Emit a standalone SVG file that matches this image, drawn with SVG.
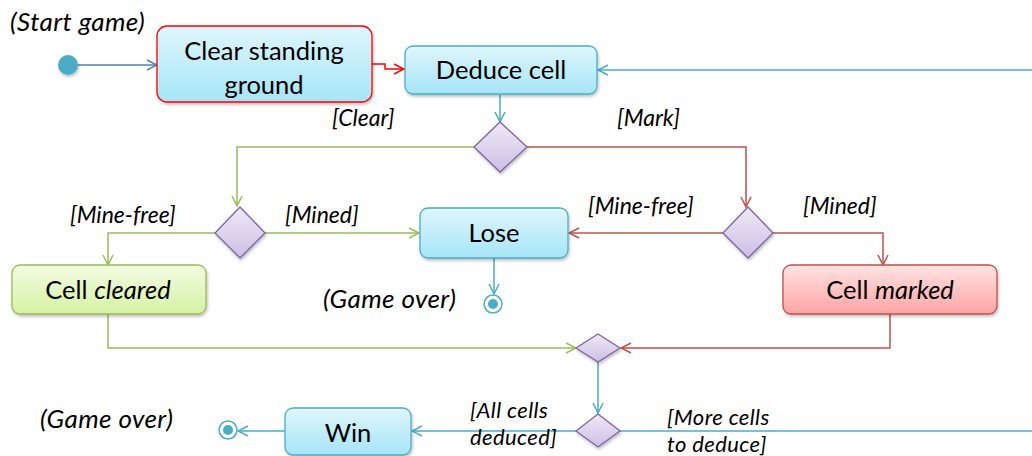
<svg xmlns="http://www.w3.org/2000/svg" width="1032" height="456" viewBox="0 0 1032 456">
  <style>
    text { font-family: Lato, "Open Sans", "Liberation Sans", sans-serif; fill: #000; }
    .node { font-size: 25.5px; text-anchor: middle; }
    .lbl { font-size: 23px; font-style: italic; }
    .lbl2 { font-size: 22px; font-style: italic; letter-spacing: 0.4px; }
    .note { font-size: 26px; font-style: italic; letter-spacing: 0.4px; }
    .blue { stroke: #4bacc6; stroke-width: 1.5; fill: none; }
    .navy { stroke: #4f81bd; stroke-width: 1.5; fill: none; }
    .red { stroke: #c0504d; stroke-width: 1.5; fill: none; }
    .bred { stroke: #ff0000; stroke-width: 1.5; fill: none; }
    .green { stroke: #9bbb59; stroke-width: 1.5; fill: none; }
    .dia { fill: url(#gPurple); stroke: #8064a2; stroke-width: 1.3; filter: url(#sh); }
  </style>
  <defs>
    <linearGradient id="gBlue" x1="0" y1="0" x2="0" y2="1">
      <stop offset="0" stop-color="#e0f6fc"/>
      <stop offset="1" stop-color="#a5e5f8"/>
    </linearGradient>
    <linearGradient id="gGreen" x1="0" y1="0" x2="0" y2="1">
      <stop offset="0" stop-color="#f3fbe3"/>
      <stop offset="1" stop-color="#d5f2a3"/>
    </linearGradient>
    <linearGradient id="gRed" x1="0" y1="0" x2="0" y2="1">
      <stop offset="0" stop-color="#ffe3e3"/>
      <stop offset="1" stop-color="#fea4a4"/>
    </linearGradient>
    <linearGradient id="gPurple" x1="0" y1="0" x2="0" y2="1">
      <stop offset="0" stop-color="#eee9f6"/>
      <stop offset="1" stop-color="#cdbfe6"/>
    </linearGradient>
    <filter id="sh" x="-20%" y="-20%" width="140%" height="150%">
      <feDropShadow dx="1" dy="2" stdDeviation="1.5" flood-color="#000" flood-opacity="0.25"/>
    </filter>
    <marker id="aBlue" viewBox="0 0 12 12" refX="11" refY="6" markerWidth="12" markerHeight="12" markerUnits="userSpaceOnUse" orient="auto">
      <path d="M1,1 L11,6 L1,11" fill="none" stroke="#4bacc6" stroke-width="1.5"/>
    </marker>
    <marker id="aNavy" viewBox="0 0 12 12" refX="11" refY="6" markerWidth="12" markerHeight="12" markerUnits="userSpaceOnUse" orient="auto">
      <path d="M1,1 L11,6 L1,11" fill="none" stroke="#4f81bd" stroke-width="1.5"/>
    </marker>
    <marker id="aRed" viewBox="0 0 12 12" refX="11" refY="6" markerWidth="12" markerHeight="12" markerUnits="userSpaceOnUse" orient="auto">
      <path d="M1,1 L11,6 L1,11" fill="none" stroke="#c0504d" stroke-width="1.5"/>
    </marker>
    <marker id="aBred" viewBox="0 0 12 12" refX="11" refY="6" markerWidth="12" markerHeight="12" markerUnits="userSpaceOnUse" orient="auto">
      <path d="M1,1 L11,6 L1,11" fill="none" stroke="#ff0000" stroke-width="1.5"/>
    </marker>
    <marker id="aGreen" viewBox="0 0 12 12" refX="11" refY="6" markerWidth="12" markerHeight="12" markerUnits="userSpaceOnUse" orient="auto">
      <path d="M1,1 L11,6 L1,11" fill="none" stroke="#9bbb59" stroke-width="1.5"/>
    </marker>
  </defs>

  <rect width="1032" height="456" fill="#fff"/>

  <!-- connectors -->
  <g id="connectors">
    <path class="navy" d="M78,65 H157" marker-end="url(#aNavy)"/>
    <path class="bred" d="M372,64 H385 V69 H404" marker-end="url(#aBred)"/>
    <path class="blue" d="M1032,70 H598" marker-end="url(#aBlue)"/>
    <path class="blue" d="M500,95 V122" marker-end="url(#aBlue)"/>
    <path class="green" d="M474,147 H237 V206" marker-end="url(#aGreen)"/>
    <path class="red" d="M527,147 H746 V207" marker-end="url(#aRed)"/>
    <path class="green" d="M215,233 H108 V265" marker-end="url(#aGreen)"/>
    <path class="green" d="M265,233 H419" marker-end="url(#aGreen)"/>
    <path class="red" d="M723,233 H569" marker-end="url(#aRed)"/>
    <path class="red" d="M773,233 H883 V265" marker-end="url(#aRed)"/>
    <path class="blue" d="M494,258 V294" marker-end="url(#aBlue)"/>
    <path class="green" d="M108,314 V348 H576" marker-end="url(#aGreen)"/>
    <path class="red" d="M890,314 V348 H621" marker-end="url(#aRed)"/>
    <path class="blue" d="M598,362 V413" marker-end="url(#aBlue)"/>
    <path class="blue" d="M620,431 H1032"/>
    <path class="blue" d="M576,431 H412" marker-end="url(#aBlue)"/>
    <path class="blue" d="M285,431 H238" marker-end="url(#aBlue)"/>
  </g>

  <!-- guard labels and notes -->
  <g id="labels">
    <text class="note" x="10" y="31">(Start game)</text>
    <text class="lbl" x="332" y="126">[Clear]</text>
    <text class="lbl" x="617" y="126">[Mark]</text>
    <text class="lbl" x="70" y="223">[Mine-free]</text>
    <text class="lbl" x="285" y="223">[Mined]</text>
    <text class="lbl" x="588" y="214">[Mine-free]</text>
    <text class="lbl" x="803" y="214">[Mined]</text>
    <text class="note" x="323" y="308">(Game over)</text>
    <text class="note" x="40" y="428">(Game over)</text>
    <text class="lbl2" x="470" y="418">[All cells</text>
    <text class="lbl2" x="470" y="445">deduced]</text>
    <text class="lbl2" x="667" y="425">[More cells</text>
    <text class="lbl2" x="667" y="452">to deduce]</text>
  </g>

  <g id="start">
    <circle cx="68" cy="65" r="10" fill="#4bacc6" filter="url(#sh)"/>
  </g>

  <g id="clear-ground">
    <rect x="157" y="26" width="215" height="76" rx="10" fill="url(#gBlue)" stroke="#ff0000" stroke-width="1.3" filter="url(#sh)"/>
    <text class="node" x="264" y="60">Clear standing</text>
    <text class="node" x="264" y="94">ground</text>
  </g>

  <g id="deduce-cell">
    <rect x="405" y="46" width="192" height="48" rx="8" fill="url(#gBlue)" stroke="#4bacc6" stroke-width="1.3" filter="url(#sh)"/>
    <text class="node" x="501" y="79">Deduce cell</text>
  </g>

  <g id="decision-action">
    <polygon class="dia" points="500,122 527,147 500,172 474,147"/>
  </g>

  <g id="decision-clear">
    <polygon class="dia" points="240,207 265,233 240,258 215,233"/>
  </g>

  <g id="decision-mark">
    <polygon class="dia" points="748,207 773,233 748,258 723,233"/>
  </g>

  <g id="lose">
    <rect x="420" y="208" width="148" height="50" rx="8" fill="url(#gBlue)" stroke="#4bacc6" stroke-width="1.3" filter="url(#sh)"/>
    <text class="node" x="494" y="242">Lose</text>
  </g>

  <g id="end-lose">
    <circle cx="493" cy="304" r="9" fill="#fff" stroke="#4bacc6" stroke-width="1.5"/>
    <circle cx="493" cy="304" r="5" fill="#4bacc6"/>
  </g>

  <g id="cell-cleared">
    <rect x="12" y="265" width="194" height="49" rx="8" fill="url(#gGreen)" stroke="#9bbb59" stroke-width="1.3" filter="url(#sh)"/>
    <text class="node" x="108" y="299">Cell <tspan font-style="italic">cleared</tspan></text>
  </g>

  <g id="cell-marked">
    <rect x="783" y="265" width="214" height="49" rx="8" fill="url(#gRed)" stroke="#c0504d" stroke-width="1.3" filter="url(#sh)"/>
    <text class="node" x="890" y="299">Cell <tspan font-style="italic">marked</tspan></text>
  </g>

  <g id="merge">
    <polygon class="dia" points="598,334 620,348 598,362 576,348"/>
  </g>

  <g id="decision-done">
    <polygon class="dia" points="598,414 620,431 598,447 576,431"/>
  </g>

  <g id="win">
    <rect x="285" y="408" width="126" height="47" rx="8" fill="url(#gBlue)" stroke="#4bacc6" stroke-width="1.3" filter="url(#sh)"/>
    <text class="node" x="348" y="442">Win</text>
  </g>

  <g id="end-win">
    <circle cx="228" cy="430" r="9" fill="#fff" stroke="#4bacc6" stroke-width="1.5"/>
    <circle cx="228" cy="430" r="5" fill="#4bacc6"/>
  </g>
</svg>
